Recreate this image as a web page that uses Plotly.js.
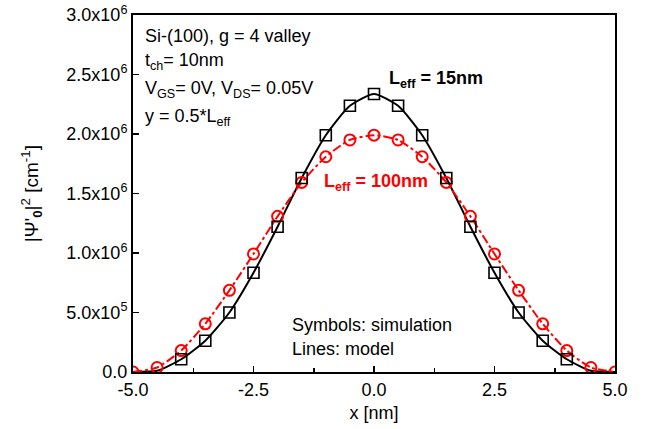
<!DOCTYPE html>
<html>
<head>
<meta charset="utf-8">
<script src="https://cdn.plot.ly/plotly-3.0.1.min.js"></script>
<style>html,body{margin:0;padding:0;background:#fff;}#chart{width:656px;height:429px;}</style>
</head>
<body>
<div id="chart"></div>
<script>
// Simulation symbols
const xSim15 = [-4, -3.5, -3, -2.5, -2, -1.5, -1, -0.5, 0, 0.5, 1, 1.5, 2, 2.5, 3, 3.5, 4];
const ySim15 = [0.107e6, 0.263e6, 0.50e6, 0.834e6, 1.221e6, 1.63e6, 1.99e6, 2.237e6, 2.336e6, 2.237e6, 1.99e6, 1.63e6, 1.221e6, 0.834e6, 0.50e6, 0.263e6, 0.107e6];
const xSim100 = [-5, -4.5, -4, -3.5, -3, -2.5, -2, -1.5, -1, -0.5, 0, 0.5, 1, 1.5, 2, 2.5, 3, 3.5, 4, 4.5, 5];
const ySim100 = [0, 0.038e6, 0.18e6, 0.405e6, 0.686e6, 0.992e6, 1.308e6, 1.593e6, 1.809e6, 1.95e6, 1.99e6, 1.95e6, 1.809e6, 1.593e6, 1.308e6, 0.992e6, 0.686e6, 0.405e6, 0.18e6, 0.038e6, 0];
// Model lines
const xMod15 = [-5, -4.5, -4, -3.5, -3, -2.5, -2, -1.5, -1, -0.5, 0, 0.5, 1, 1.5, 2, 2.5, 3, 3.5, 4, 4.5, 5];
const yMod15 = [0, 0.01e6, 0.107e6, 0.263e6, 0.50e6, 0.834e6, 1.221e6, 1.63e6, 1.99e6, 2.237e6, 2.336e6, 2.237e6, 1.99e6, 1.63e6, 1.221e6, 0.834e6, 0.50e6, 0.263e6, 0.107e6, 0.01e6, 0];
const xMod100 = xSim100;
const yMod100 = ySim100;
// Tick labels
const yTickVals = [0, 0.5e6, 1.0e6, 1.5e6, 2.0e6, 2.5e6, 3.0e6];
const yTickText = ['0.0', '5.0x10<sup>5</sup>', '1.0x10<sup>6</sup>', '1.5x10<sup>6</sup>', '2.0x10<sup>6</sup>', '2.5x10<sup>6</sup>', '3.0x10<sup>6</sup>'];
const xTickVals = [-5, -2.5, 0, 2.5, 5];
const xTickText = ['-5.0', '-2.5', '0.0', '2.5', '5.0'];

const FONT = 'Liberation Sans, Arial, sans-serif';

const traces = [
  {x: xMod15, y: yMod15, mode: 'lines', line: {color: '#000', width: 2, shape: 'spline', smoothing: 0.6}, showlegend: false},
  {x: xMod100, y: yMod100, mode: 'lines', line: {color: '#ff0000', width: 2, dash: 'dashdot', shape: 'spline', smoothing: 0.6}, showlegend: false},
  {x: xSim100, y: ySim100, mode: 'markers', marker: {symbol: 'circle-open', size: 11, color: '#ff0000', line: {width: 2, color: '#ff0000'}}, showlegend: false, cliponaxis: true},
  {x: xSim15, y: ySim15, mode: 'markers', marker: {symbol: 'square-open', size: 11, color: '#000', line: {width: 1.6, color: '#000'}}, showlegend: false}
];

function ann(text, x, y, opts) {
  return Object.assign({text: text, x: x, y: y, xref: 'x', yref: 'y', xanchor: 'left', yanchor: 'middle', showarrow: false, font: {family: FONT, size: 18, color: '#000'}}, opts || {});
}

const layout = {
  width: 656, height: 429,
  margin: {l: 133, r: 41, t: 15, b: 57},
  paper_bgcolor: '#fff', plot_bgcolor: '#fff',
  font: {family: FONT, size: 18, color: '#000'},
  xaxis: {
    range: [-5, 5], tickvals: xTickVals, ticktext: xTickText,
    ticks: 'inside', ticklen: 6, tickwidth: 1.5, tickcolor: '#000',
    minor: {tickvals: [-3.75, -1.25, 1.25, 3.75], ticks: 'inside', ticklen: 4, tickwidth: 1.5, tickcolor: '#000'},
    showline: true, linecolor: '#000', linewidth: 2, mirror: true,
    showgrid: false, zeroline: false,
    tickfont: {family: FONT, size: 18, color: '#000'},
    title: {text: 'x [nm]', font: {family: FONT, size: 18, color: '#000'}, standoff: 8}
  },
  yaxis: {
    range: [0, 3.0e6], tickvals: yTickVals, ticktext: yTickText,
    ticks: 'inside', ticklen: 6, tickwidth: 1.5, tickcolor: '#000',
    showline: true, linecolor: '#000', linewidth: 2, mirror: true,
    showgrid: false, zeroline: false,
    tickfont: {family: FONT, size: 18, color: '#000'}
  },
  annotations: [
    {text: "|Ψ'<sub><b>0</b></sub>|<sup>2</sup> [cm<sup>-1</sup>]", xref: 'paper', yref: 'paper', x: -0.21, y: 0.5,
     xanchor: 'center', yanchor: 'middle', textangle: -90, showarrow: false, font: {family: FONT, size: 19, color: '#000'}},
    ann('Si-(100), g = 4 valley', -4.8, 2.82e6),
    ann('t<sub>ch</sub>= 10nm', -4.8, 2.61e6),
    ann('V<sub>GS</sub>= 0V, V<sub>DS</sub>= 0.05V', -4.8, 2.37e6),
    ann('y = 0.5*L<sub>eff</sub>', -4.8, 2.14e6),
    ann('<b>L<sub>eff</sub> = 15nm</b>', 0.27, 2.46e6, {font: {family: FONT, size: 18, color: '#000'}}),
    ann('<b>L<sub>eff</sub> = 100nm</b>', -1.08, 1.59e6, {font: {family: FONT, size: 18, color: '#ff0000'}}),
    ann('Symbols: simulation', -1.74, 0.395e6),
    ann('Lines: model', -1.74, 0.19e6)
  ]
};

Plotly.newPlot('chart', traces, layout, {staticPlot: true, displayModeBar: false});
</script>
</body>
</html>
